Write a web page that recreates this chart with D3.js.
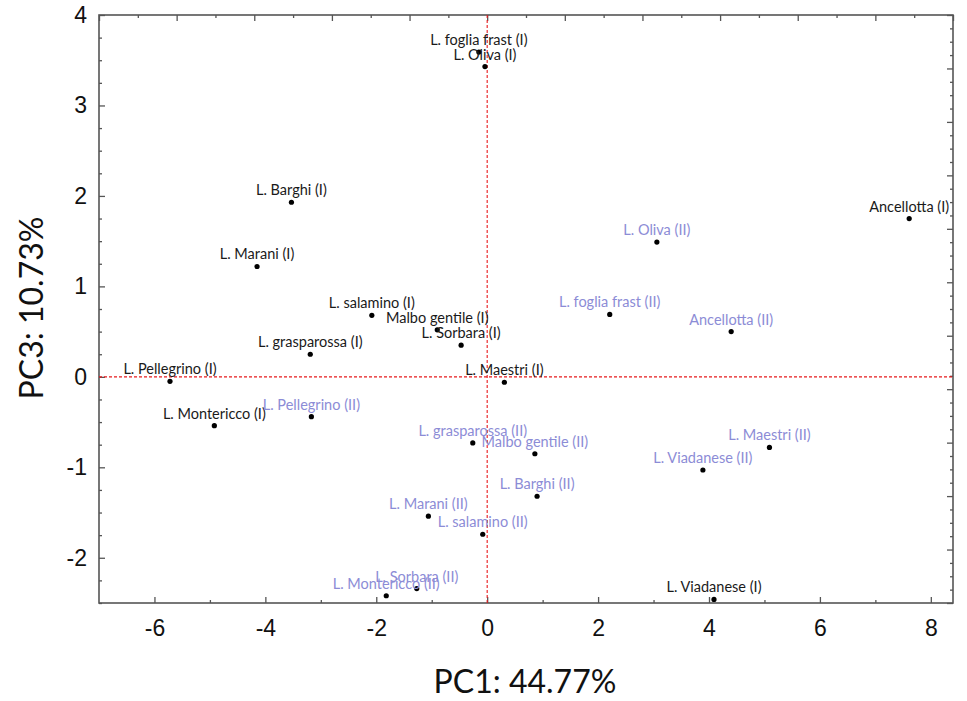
<!DOCTYPE html>
<html>
<head>
<meta charset="utf-8">
<script src="https://cdn.jsdelivr.net/npm/d3@7"></script>
<style>
  body { margin: 0; background: #fff; }
  svg { display: block; font-family: Lato, "Open Sans", sans-serif; }
</style>
</head>
<body>
<svg id="chart" width="967" height="701"></svg>
<script>
const names = ["L. foglia frast (I)", "L. Oliva (I)", "L. Barghi (I)", "L. Marani (I)", "L. salamino (I)",
  "Malbo gentile (I)", "L. Sorbara (I)", "L. grasparossa (I)", "L. Pellegrino (I)", "L. Montericco (I)",
  "Ancellotta (I)", "L. Maestri (I)", "L. Viadanese (I)",
  "L. Pellegrino (II)", "L. grasparossa (II)", "L. Marani (II)", "L. salamino (II)", "L. Sorbara (II)",
  "L. Montericco (II)", "L. Oliva (II)", "L. foglia frast (II)", "Ancellotta (II)", "Malbo gentile (II)",
  "L. Barghi (II)", "L. Viadanese (II)", "L. Maestri (II)"];
const pc1 = [-0.15, -0.04, -3.53, -4.15, -2.08, -0.90, -0.47, -3.19, -5.72, -4.92, 7.61, 0.31, 4.09,
  -3.17, -0.26, -1.06, -0.08, -1.27, -1.82, 3.06, 2.21, 4.40, 0.86, 0.90, 3.89, 5.09];
const pc3 = [3.59, 3.43, 1.93, 1.22, 0.68, 0.52, 0.35, 0.25, -0.05, -0.54, 1.75, -0.06, -2.46,
  -0.44, -0.73, -1.54, -1.74, -2.34, -2.42, 1.49, 0.69, 0.50, -0.85, -1.32, -1.03, -0.78];
const group = ["I", "I", "I", "I", "I", "I", "I", "I", "I", "I", "I", "I", "I",
  "II", "II", "II", "II", "II", "II", "II", "II", "II", "II", "II", "II", "II"];

const xTicks = [-6, -4, -2, 0, 2, 4, 6, 8];
const yTicks = [-2, -1, 0, 1, 2, 3, 4];

const svg = d3.select("#chart"),
    margin = {top: 15, right: 14, bottom: 98, left: 99},
    width = 967 - margin.left - margin.right,
    height = 701 - margin.top - margin.bottom;

const g = svg.append("g").attr("transform", `translate(${margin.left},${margin.top})`);

const x = d3.scaleLinear().domain([-7, 8.4]).range([0, width]);
const y = d3.scaleLinear().domain([-2.5, 4]).range([height, 0]);
// the top and right frame carry a second (loadings) scale
const xTop = d3.scaleLinear().domain([-1, 1.2]).range([0, width]);
const yRight = d3.scaleLinear().domain([-1, 1.2]).range([height, 0]);

const fmt = d => String(d);

//bottom axis: labelled major ticks, short ticks on odd values
g.append("g")
  .attr("class", "axis")
  .attr("transform", `translate(0,${height})`)
  .call(d3.axisBottom(x).tickValues(xTicks).tickFormat(fmt).tickSize(-6).tickPadding(17));
g.append("g")
  .attr("class", "minor")
  .attr("transform", `translate(0,${height})`)
  .call(d3.axisBottom(x).tickValues(d3.range(-5, 9, 2)).tickFormat("").tickSize(-3));

//left axis
g.append("g")
  .attr("class", "axis")
  .call(d3.axisLeft(y).tickValues(yTicks).tickFormat(fmt).tickSize(-6).tickPadding(12));
g.append("g")
  .attr("class", "minor")
  .call(d3.axisLeft(y).tickValues(d3.range(-10, 17).filter(i => i % 4 != 0).map(i => i / 4)).tickFormat("").tickSize(-3));

//top axis
const topVals = d3.range(-10, 13).map(i => i / 10);
g.append("g")
  .attr("class", "minor")
  .call(d3.axisTop(xTop).tickValues(topVals.filter((v, i) => i % 2 == 1)).tickFormat("").tickSize(-3));
g.append("g")
  .attr("class", "minor")
  .call(d3.axisTop(xTop).tickValues(topVals.filter((v, i) => i % 2 == 0)).tickFormat("").tickSize(-6));

//right axis
const rightVals = d3.range(-20, 25).map(i => i / 20);
g.append("g")
  .attr("class", "minor")
  .attr("transform", `translate(${width},0)`)
  .call(d3.axisRight(yRight).tickValues(rightVals.filter((v, i) => i % 4 != 0)).tickFormat("").tickSize(-3));
g.append("g")
  .attr("class", "minor")
  .attr("transform", `translate(${width},0)`)
  .call(d3.axisRight(yRight).tickValues(rightVals.filter((v, i) => i % 4 == 0)).tickFormat("").tickSize(-6));

g.selectAll(".axis .domain, .minor .domain").remove();
g.selectAll(".axis line, .minor line").attr("stroke", "#555").attr("stroke-width", 1.3);
g.selectAll(".axis text")
  .attr("font-size", 23)
  .attr("fill", "#111");

//frame
g.append("rect")
  .attr("width", width)
  .attr("height", height)
  .attr("fill", "none")
  .attr("stroke", "#555")
  .attr("stroke-width", 1.6);

//red dashed zero lines
g.append("line")
  .attr("x1", x(0)).attr("x2", x(0))
  .attr("y1", 0).attr("y2", height)
  .attr("stroke", "#e8191c").attr("stroke-width", 1.1).attr("stroke-dasharray", "3,2");
g.append("line")
  .attr("x1", 0).attr("x2", width)
  .attr("y1", y(0)).attr("y2", y(0))
  .attr("stroke", "#e8191c").attr("stroke-width", 1.1).attr("stroke-dasharray", "3,2");

//points and labels
const idx = d3.range(names.length);

g.selectAll(".dot")
  .data(idx)
  .join("circle")
  .attr("class", "dot")
  .attr("cx", i => x(pc1[i]))
  .attr("cy", i => y(pc3[i]))
  .attr("r", 2.6)
  .attr("fill", "#000");

g.selectAll(".label")
  .data(idx)
  .join("text")
  .attr("class", "label")
  .attr("x", i => x(pc1[i]))
  .attr("y", i => y(pc3[i]) - 7)
  .attr("text-anchor", "middle")
  .attr("font-size", 14.5)
  .attr("fill", i => group[i] == "I" ? "#1a1a1a" : "#8c8cd6")
  .text(i => names[i]);

//axis titles
svg.append("text")
  .attr("x", 525)
  .attr("y", 693)
  .attr("text-anchor", "middle")
  .attr("font-size", 32)
  .attr("fill", "#111")
  .text("PC1: 44.77%");

svg.append("text")
  .attr("transform", "translate(43,308) rotate(-90)")
  .attr("text-anchor", "middle")
  .attr("font-size", 32)
  .attr("fill", "#111")
  .text("PC3: 10.73%");
</script>
</body>
</html>
